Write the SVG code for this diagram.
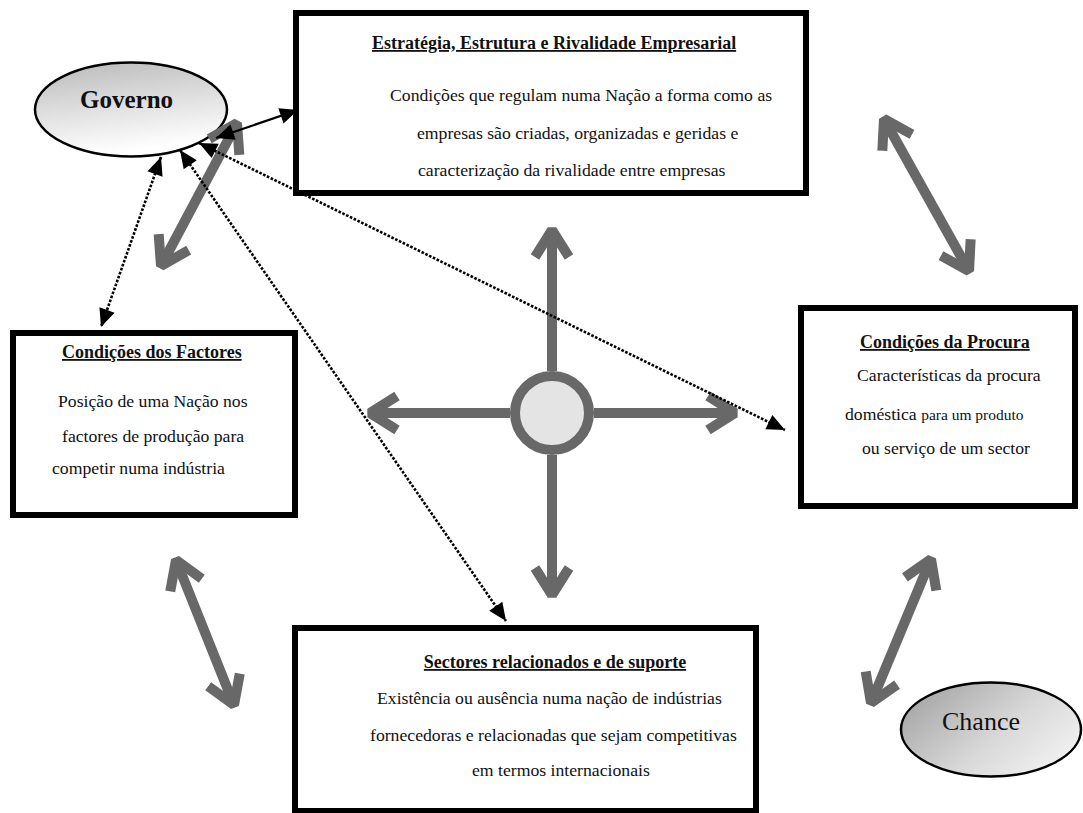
<svg xmlns="http://www.w3.org/2000/svg" width="1083" height="813" viewBox="0 0 1083 813">
<defs>
<style>
.box{fill:#fff;stroke:#000;stroke-width:6}
.t{font-family:"Liberation Serif","Times New Roman",serif;font-size:17.7px;fill:#111}
.h{font-family:"Liberation Serif","Times New Roman",serif;font-size:18px;font-weight:bold;fill:#111;text-decoration:underline}
.g{fill:none;stroke:#686868;stroke-width:10;marker-start:url(#chev);marker-end:url(#chev)}
.g1{fill:none;stroke:#686868;stroke-width:10;marker-end:url(#chev)}
.d{fill:none;stroke:#000;stroke-width:2.6;stroke-dasharray:2.6 1.6;marker-start:url(#tri);marker-end:url(#tri)}
.s{fill:none;stroke:#000;stroke-width:2.2;marker-start:url(#tri);marker-end:url(#tri)}
</style>
<marker id="chev" markerUnits="userSpaceOnUse" orient="auto-start-reverse" refX="0" refY="0" markerWidth="60" markerHeight="60" viewBox="-40 -30 60 60" overflow="visible">
<path d="M -27 -17 L 0 0 L -27 17" fill="none" stroke="#686868" stroke-width="10" stroke-linejoin="bevel"/>
</marker>
<marker id="tri" markerUnits="userSpaceOnUse" orient="auto-start-reverse" refX="0" refY="0" markerWidth="40" markerHeight="40" viewBox="-30 -20 40 40" overflow="visible">
<path d="M -18 -8 L 0 0 L -18 8 Z" fill="#000"/>
</marker>
<linearGradient id="gradGov" x1="0" y1="0" x2="0.25" y2="1">
<stop offset="0" stop-color="#b9b9b9"/>
<stop offset="0.6" stop-color="#e4e4e4"/>
<stop offset="1" stop-color="#ffffff"/>
</linearGradient>
<linearGradient id="gradCh" x1="0" y1="0.2" x2="1" y2="0.8">
<stop offset="0" stop-color="#a4a4a4"/>
<stop offset="0.55" stop-color="#d8d8d8"/>
<stop offset="1" stop-color="#f4f4f4"/>
</linearGradient>
</defs>
<rect width="1083" height="813" fill="#fff"/>

<g id="estrategia">
<rect class="box" x="296" y="13" width="510" height="180"/>
<text class="h" x="372" y="49" font-size="18.5">Estratégia, Estrutura e Rivalidade Empresarial</text>
<text class="t" x="390" y="101">Condições que regulam numa Nação a forma como as</text>
<text class="t" x="417" y="139">empresas são criadas, organizadas e geridas e</text>
<text class="t" x="418" y="176">caracterização da rivalidade entre empresas</text>
</g>

<g id="factores">
<rect class="box" x="13" y="333" width="282" height="182"/>
<text class="h" x="62" y="358">Condições dos Factores</text>
<text class="t" x="58" y="407">Posição de uma Nação nos</text>
<text class="t" x="62" y="442">factores de produção para</text>
<text class="t" x="52" y="474">competir numa indústria</text>
</g>

<g id="procura">
<rect class="box" x="801" y="308" width="274" height="198"/>
<text class="h" x="860" y="348" font-size="17.5">Condições da Procura</text>
<text class="t" x="857" y="381">Características da procura</text>
<text class="t" x="845" y="420">doméstica <tspan font-size="15.5">para um produto</tspan></text>
<text class="t" x="862" y="454" font-size="15.5">ou serviço de um sector</text>
</g>

<g id="sectores">
<rect class="box" x="295" y="628" width="461" height="183"/>
<text class="h" x="555" y="668" text-anchor="middle">Sectores relacionados e de suporte</text>
<text class="t" x="377" y="704">Existência ou ausência numa nação de indústrias</text>
<text class="t" x="370" y="741">fornecedoras e relacionadas que sejam competitivas</text>
<text class="t" x="472" y="776">em termos internacionais</text>
</g>

<g id="governo">
<ellipse cx="131" cy="109.5" rx="96" ry="47" fill="url(#gradGov)" stroke="#000" stroke-width="2.5"/>
<text x="80" y="108" font-family="Liberation Serif, Times New Roman, serif" font-size="25" font-weight="bold" fill="#111">Governo</text>
</g>

<g id="chance">
<ellipse cx="991" cy="729.5" rx="90" ry="47" fill="url(#gradCh)" stroke="#000" stroke-width="2.5"/>
<text x="942" y="730" font-family="Liberation Serif, Times New Roman, serif" font-size="26" fill="#111">Chance</text>
</g>

<g id="centro">
<circle cx="552" cy="413" r="37" fill="#e4e4e4" stroke="#686868" stroke-width="10"/>
</g>

<g id="connectors">
<line class="g1" x1="552" y1="371" x2="552" y2="230"/>
<line class="g1" x1="552" y1="455" x2="552" y2="595"/>
<line class="g1" x1="510" y1="413" x2="370" y2="413"/>
<line class="g1" x1="594" y1="413" x2="735" y2="413"/>
<line class="g" x1="237" y1="123" x2="161" y2="266"/>
<line class="g" x1="884" y1="119" x2="969" y2="271"/>
<line class="g" x1="176" y1="560" x2="234" y2="705"/>
<line class="g" x1="931" y1="559" x2="871" y2="703"/>
<line class="s" x1="216" y1="138" x2="298" y2="110"/>
<line class="d" x1="199" y1="143" x2="785" y2="430"/>
<line class="d" x1="180" y1="150" x2="506" y2="621"/>
<line class="d" x1="161" y1="157" x2="101" y2="327"/>
</g>
</svg>
